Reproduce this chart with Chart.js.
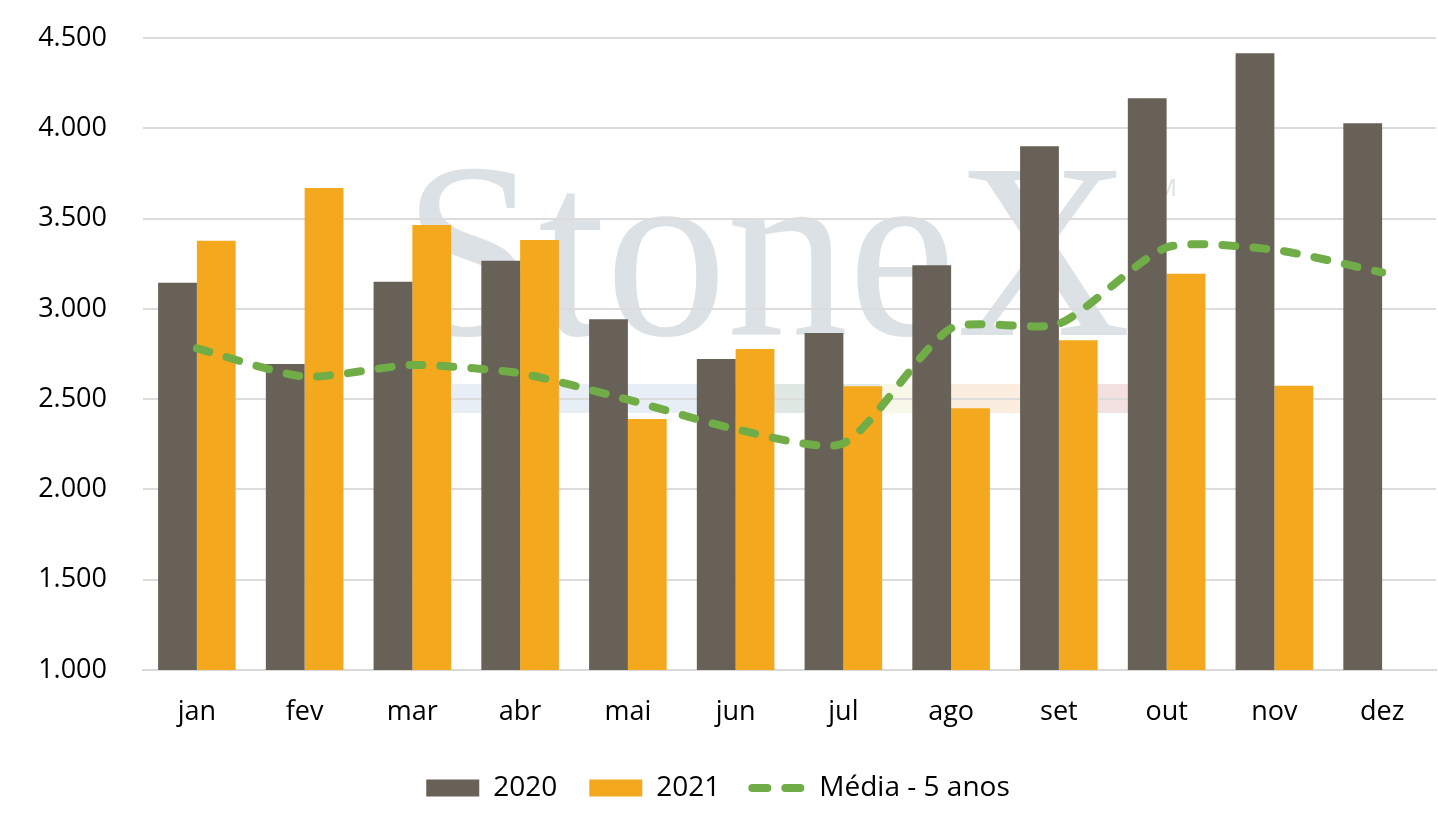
<!DOCTYPE html>
<html>
<head>
<meta charset="utf-8">
<script src="https://cdn.jsdelivr.net/npm/chart.js@4/dist/chart.umd.min.js"></script>
<style>
  html, body { margin: 0; padding: 0; background: #ffffff; }
  #wrap { width: 1438px; height: 826px; position: relative; }
</style>
</head>
<body>
<div id="wrap"><canvas id="c"></canvas></div>
<script>
const categories = ['jan', 'fev', 'mar', 'abr', 'mai', 'jun', 'jul', 'ago', 'set', 'out', 'nov', 'dez'];
const values2020 = [3145, 2695, 3150, 3267, 2943, 2722, 2866, 3242, 3901, 4166, 4416, 4028];
const values2021 = [3377, 3669, 3465, 3382, 2390, 2778, 2572, 2450, 2826, 3195, 2574, null];
const media5anos = [2781, 2625, 2689, 2643, 2497, 2334, 2255, 2892, 2917, 3340, 3327, 3202];
const seriesNames = ['2020', '2021', 'Média - 5 anos'];

const FONT = '"Open Sans", Lato, sans-serif';

const watermark = {
  id: 'watermark',
  beforeDraw(chart) {
    const ctx = chart.ctx;
    ctx.save();
    ctx.fillStyle = '#ffffff';
    ctx.fillRect(0, 0, chart.width, chart.height);
    const bands = [
      [452, 772, '#e7eef6'],
      [772, 880, '#dfe8e2'],
      [880, 950, '#f8f8e8'],
      [950, 1060, '#fbeee0'],
      [1060, 1130, '#f3e1e1']
    ];
    bands.forEach(b => { ctx.fillStyle = b[2]; ctx.fillRect(b[0], 384, b[1] - b[0], 29); });
    ctx.fillStyle = '#dce1e6';
    ctx.font = '250px "Liberation Serif", "DejaVu Serif", serif';
    ctx.textBaseline = 'alphabetic';
    ctx.textAlign = 'left';
    ctx.fillText('StoneX', 403, 335, 728);
    ctx.font = '24px "Open Sans", sans-serif';
    ctx.fillText('TM', 1142, 196);
    ctx.restore();
  }
};

new Chart(document.getElementById('c'), {
  data: {
    labels: categories,
    datasets: [
      {
        type: 'bar',
        label: seriesNames[0],
        data: values2020,
        backgroundColor: '#686158',
        borderWidth: 0,
        categoryPercentage: 0.72,
        barPercentage: 1.0,
        order: 1
      },
      {
        type: 'bar',
        label: seriesNames[1],
        data: values2021,
        backgroundColor: '#f4a81d',
        borderWidth: 0,
        categoryPercentage: 0.72,
        barPercentage: 1.0,
        order: 1
      },
      {
        type: 'line',
        label: seriesNames[2],
        data: media5anos,
        borderColor: '#70ad47',
        backgroundColor: '#70ad47',
        borderWidth: 8,
        borderDash: [13, 18],
        borderCapStyle: 'round',
        pointRadius: 0,
        pointHoverRadius: 0,
        tension: 0.22,
        fill: false,
        order: 0
      }
    ]
  },
  options: {
    responsive: true,
    maintainAspectRatio: false,
    animation: false,
    devicePixelRatio: 1,
    layout: { padding: { top: 38, right: 2, bottom: 14, left: 0 } },
    plugins: {
      tooltip: { enabled: false },
      legend: {
        position: 'bottom',
        labels: {
          font: { family: FONT, size: 28 },
          color: '#000000',
          usePointStyle: true,
          pointStyleWidth: 53,
          boxHeight: 17,
          padding: 32,
          sort: (a, b) => a.datasetIndex - b.datasetIndex,
          generateLabels(chart) {
            const items = Chart.defaults.plugins.legend.labels.generateLabels(chart);
            items.forEach(it => {
              if (it.datasetIndex === 2) {
                it.pointStyle = 'line';
                it.lineWidth = 8;
                it.lineDash = [15, 18];
                it.lineCap = 'round';
                it.strokeStyle = '#70ad47';
              } else {
                it.pointStyle = 'rect';
                it.lineWidth = 0;
              }
            });
            return items;
          }
        }
      }
    },
    scales: {
      x: {
        grid: { display: false, drawTicks: false },
        border: { display: true, color: '#d9d9d9', width: 2 },
        ticks: { font: { family: FONT, size: 27 }, color: '#000000', padding: 26 },
        afterFit(scale) { scale.height = 72; }
      },
      y: {
        min: 1000,
        max: 4500,
        grid: { color: '#dcdcdc', lineWidth: 2, drawTicks: true, tickLength: 34, tickColor: 'rgba(0,0,0,0)' },
        border: { display: false },
        ticks: {
          stepSize: 500,
          padding: 2,
          font: { family: FONT, size: 27 },
          color: '#000000',
          callback: v => v.toLocaleString('de-DE')
        },
        afterFit(scale) { scale.width = 143; }
      }
    }
  },
  plugins: [watermark]
});
</script>
</body>
</html>
